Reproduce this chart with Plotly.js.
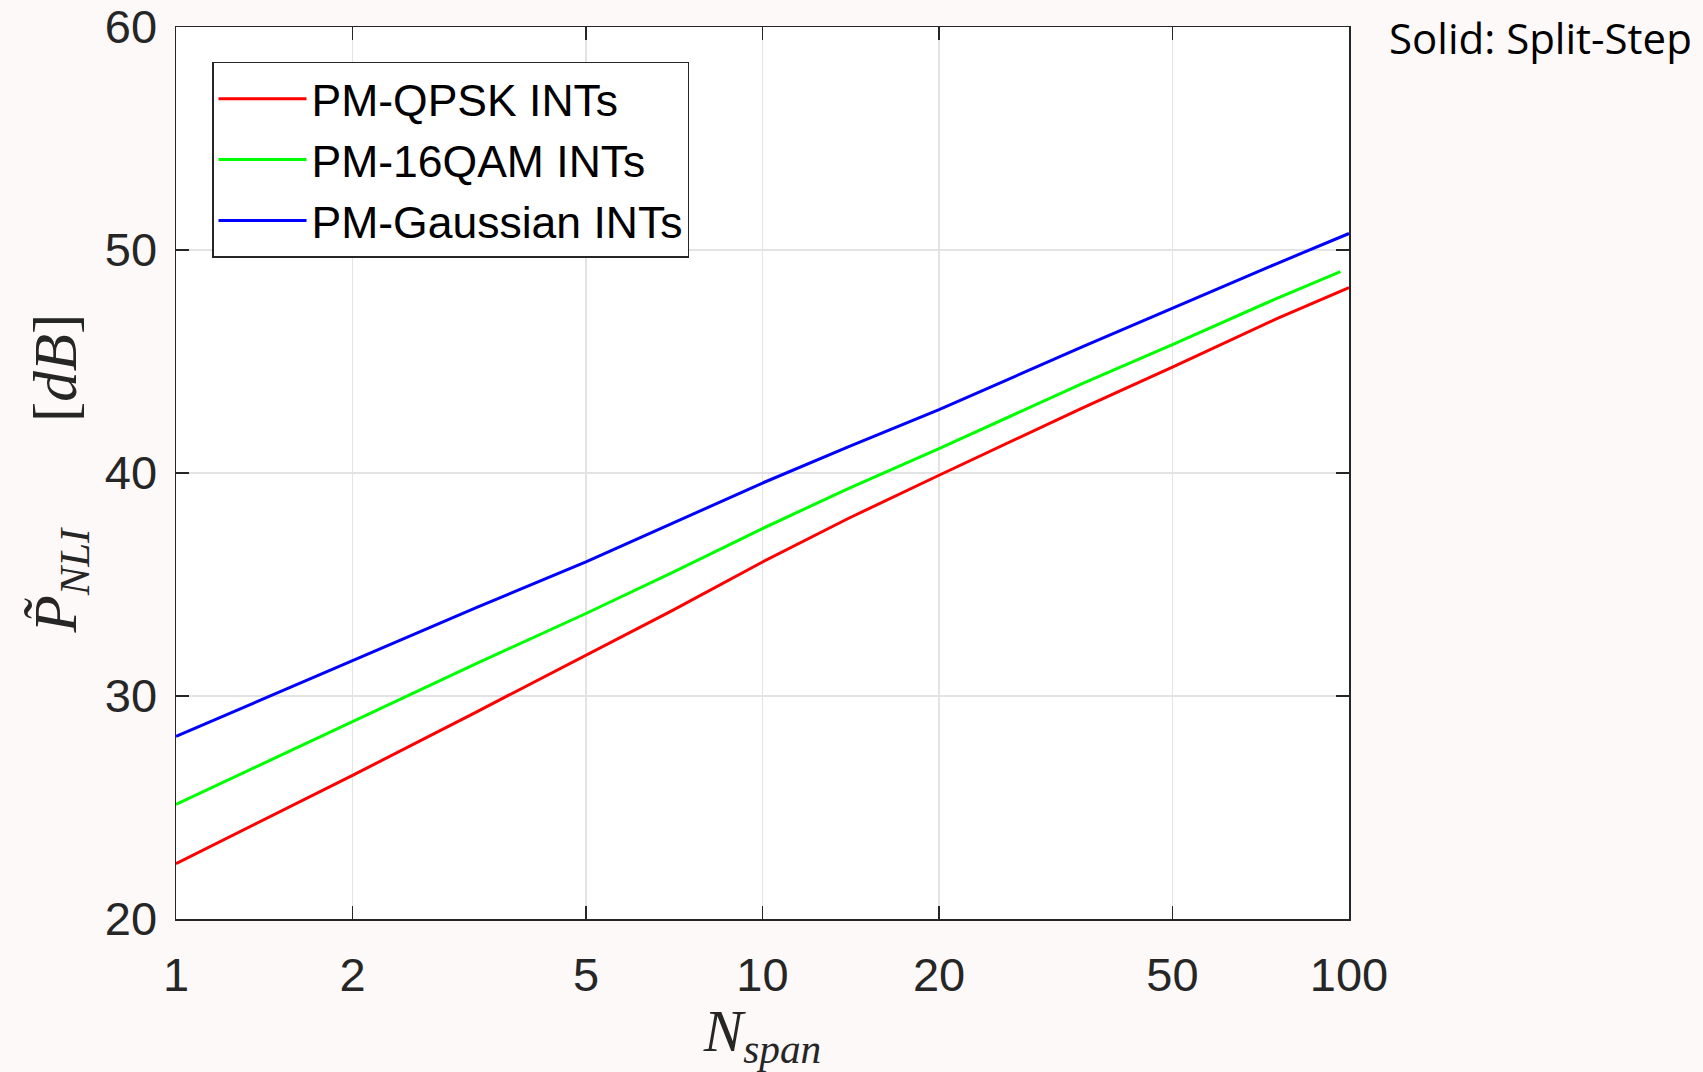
<!DOCTYPE html>
<html>
<head>
<meta charset="utf-8">
<script src="https://cdn.plot.ly/plotly-3.0.1.min.js"></script>
<style>
  html, body { margin: 0; padding: 0; background: #fdf9f8; }
  #chart { width: 1703px; height: 1072px; }
</style>
</head>
<body>
<div id="chart"></div>
<script>
// Number of spans (x)
const nSpan      = [1, 2, 3.25, 5, 7, 10, 14, 20, 35, 50, 75, 100];
const nSpanGreen = [1, 2, 3.25, 5, 7, 10, 14, 20, 35, 50, 75, 96.7];

// P_NLI [dB] per series
const qpsk     = [22.48, 26.44, 29.28, 31.83, 33.82, 36.01, 37.96, 39.90, 42.90, 44.75, 46.90, 48.31];
const qam16    = [25.14, 28.83, 31.45, 33.70, 35.52, 37.51, 39.30, 41.09, 44.00, 45.76, 47.81, 49.03];
const gaussian = [28.19, 31.57, 33.96, 36.01, 37.73, 39.55, 41.17, 42.84, 45.64, 47.40, 49.37, 50.74];

const seriesNames = ['PM-QPSK INTs', 'PM-16QAM INTs', 'PM-Gaussian INTs'];
const xTickVals = [1, 2, 5, 10, 20, 50, 100];
const xTickText = ['1', '2', '5', '10', '20', '50', '100'];
const yTickVals = [20, 30, 40, 50, 60];

const traces = [
  { x: nSpan,      y: qpsk,     name: seriesNames[0], mode: 'lines', line: { color: '#ff0000', width: 3 } },
  { x: nSpanGreen, y: qam16,    name: seriesNames[1], mode: 'lines', line: { color: '#00ff00', width: 3 } },
  { x: nSpan,      y: gaussian, name: seriesNames[2], mode: 'lines', line: { color: '#0000ff', width: 3 } }
];

const axisCommon = {
  showline: true, linecolor: '#262626', linewidth: 1.5, mirror: 'ticks',
  ticks: 'inside', ticklen: 13, tickwidth: 1.5, tickcolor: '#262626',
  showgrid: true, gridcolor: '#e3e3e3', gridwidth: 1.2, zeroline: false,
  tickfont: { family: 'Liberation Sans, Arial, sans-serif', size: 47, color: '#262626' }
};

const layout = {
  width: 1703, height: 1072,
  paper_bgcolor: '#fdf9f8', plot_bgcolor: '#ffffff',
  margin: { l: 176, r: 354, t: 27, b: 153, autoexpand: false },
  showlegend: true,
  xaxis: Object.assign({}, axisCommon, {
    type: 'log', range: [0, 2],
    tickvals: xTickVals, ticktext: xTickText,
    ticklabelstandoff: 14,
    title: { text: '<i>N</i><sub><i>span</i></sub>', standoff: 8,
             font: { family: 'Liberation Serif, Times New Roman, serif', size: 59, color: '#262626' } }
  }),
  yaxis: Object.assign({}, axisCommon, {
    range: [20, 60], tickvals: yTickVals,
    ticklabelstandoff: 8,
    title: { text: '<i>P\u0303</i><sub><i>NLI</i></sub>\u00a0\u00a0\u00a0\u00a0\u00a0\u00a0\u00a0[<i>dB</i>]', standoff: 8,
             font: { family: 'Liberation Serif, Times New Roman, serif', size: 61, color: '#262626' } }
  }),
  legend: {
    x: 0.0307, y: 0.961, xanchor: 'left', yanchor: 'top',
    bgcolor: '#ffffff', bordercolor: '#262626', borderwidth: 1.5,
    font: { family: 'Liberation Sans, Arial, sans-serif', size: 44.5, color: '#000000' },
    itemwidth: 88, tracegroupgap: 0
  },
  annotations: [{
    xref: 'paper', yref: 'paper', x: 1.032, y: 1.022, xanchor: 'left', yanchor: 'top',
    text: 'Solid: Split-Step', showarrow: false,
    font: { family: 'Open Sans, Noto Sans, sans-serif', size: 42, color: '#000000' }
  }]
};

Plotly.newPlot('chart', traces, layout, { displayModeBar: false, staticPlot: true });
</script>
</body>
</html>
